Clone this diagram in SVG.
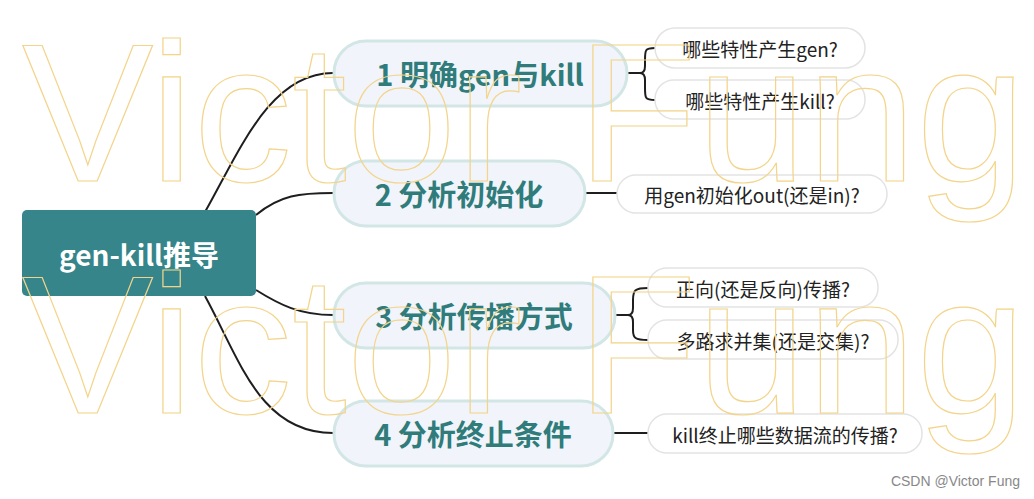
<svg xmlns="http://www.w3.org/2000/svg" width="1034" height="499" viewBox="0 0 1034 499">
<style>
.wm{font-family:"Liberation Sans",Arial,sans-serif;font-size:197px;fill:none;stroke:#f3d48a;stroke-width:1.2}
.main rect{fill:#f1f4fb;stroke:#d3e6e6;stroke-width:3}
.main text{font-family:"Noto Sans CJK SC",sans-serif;font-weight:bold;font-size:29px;fill:#2f7c7a;text-anchor:middle;dominant-baseline:central}
.sub rect{fill:#fff;stroke:#e3e3e3;stroke-width:1.5}
.sub text{font-family:"Noto Sans CJK SC",sans-serif;font-size:19px;fill:#222;text-anchor:middle;dominant-baseline:central}
.c path{fill:none;stroke:#1e1e1e;stroke-width:2}
</style>
<rect width="1034" height="499" fill="#fff"/>
<g id="connectors" class="c">
<path d="M205,212 C240,150 270,73 333,73"/>
<path d="M256,215 C280,195 300,193 333,193"/>
<path d="M256,290 C280,305 300,315 333,315"/>
<path d="M205,296 C240,360 260,433 333,433"/>
<path d="M627,73 H640 M655,48 C645,48 645,50 645,60 V66 Q645,73 640,73 Q645,73 645,80 V88 C645,98 645,100 655,100"/>
<path d="M585,193 H617"/>
<path d="M615,315 H628 M648,288 C635,288 633,290 633,300 V308 Q633,315 628,315 Q633,315 633,322 V330 C633,338 635,340 648,340"/>
<path d="M613,433 H648"/>
</g>
<g id="root"><rect x="22" y="210" width="234" height="86" rx="5" fill="#35858a"/>
<text x="139" y="254" font-family="Noto Sans CJK SC,sans-serif" font-weight="bold" font-size="28" fill="#fff" text-anchor="middle" dominant-baseline="central">gen-kill推导</text></g>
<g id="n1" class="main"><rect x="334" y="41" width="293" height="65" rx="32"/><text x="480" y="73">1 明确gen与kill</text></g>
<g id="n2" class="main"><rect x="334" y="161" width="251" height="65" rx="32"/><text x="459" y="193">2 分析初始化</text></g>
<g id="n3" class="main"><rect x="334" y="283" width="281" height="65" rx="32"/><text x="474" y="315">3 分析传播方式</text></g>
<g id="n4" class="main"><rect x="334" y="401" width="279" height="65" rx="32"/><text x="473" y="433">4 分析终止条件</text></g>
<g id="s1" class="sub"><rect x="655" y="28" width="210" height="40" rx="20"/><text x="760" y="48">哪些特性产生gen?</text></g>
<g id="s2" class="sub"><rect x="655" y="80" width="210" height="39" rx="19"/><text x="760" y="100">哪些特性产生kill?</text></g>
<g id="s3" class="sub"><rect x="617" y="175" width="270" height="38" rx="19"/><text x="752" y="194">用gen初始化out(还是in)?</text></g>
<g id="s4" class="sub"><rect x="648" y="268" width="230" height="39" rx="19"/><text x="763" y="288">正向(还是反向)传播?</text></g>
<g id="s5" class="sub"><rect x="648" y="320" width="250" height="39" rx="19"/><text x="773" y="340">多路求并集(还是交集)?</text></g>
<g id="s6" class="sub"><rect x="648" y="414" width="274" height="39" rx="19"/><text x="785" y="434">kill终止哪些数据流的传播?</text></g>
<text class="wm" x="22" y="181">Victor Fung</text>
<text class="wm" x="22" y="413">Victor Fung</text>
<text x="1020" y="486" font-family="Liberation Sans,sans-serif" font-size="14" fill="#888" text-anchor="end">CSDN @Victor Fung</text>
</svg>
